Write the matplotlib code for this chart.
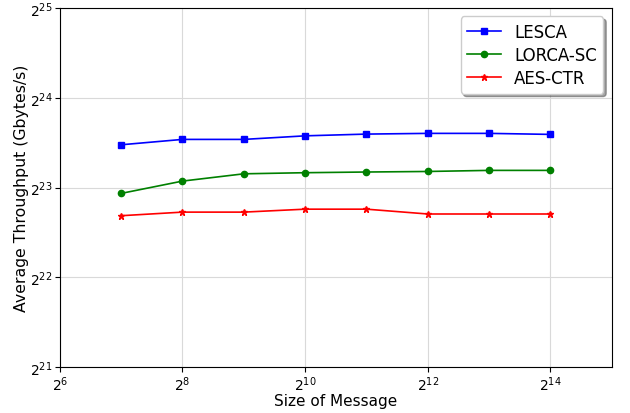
import matplotlib
matplotlib.use("Agg")
import matplotlib.pyplot as plt

# ── Data ──────────────────────────────────────────────────────────
msg_sizes = [2**7, 2**8, 2**9, 2**10, 2**11, 2**12, 2**13, 2**14]
lesca = [11.675e6, 12.17e6, 12.17e6, 12.51e6, 12.68e6, 12.75e6, 12.75e6, 12.65e6]
lorca_sc = [8.02e6, 8.82e6, 9.33e6, 9.41e6, 9.46e6, 9.50e6, 9.58e6, 9.58e6]
aes_ctr = [6.75e6, 6.94e6, 6.94e6, 7.10e6, 7.10e6, 6.84e6, 6.84e6, 6.84e6]

# ── Plot ──────────────────────────────────────────────────────────
fig = plt.figure(figsize=(6.3, 4.14), dpi=100)
ax = fig.add_axes([0.095, 0.111, 0.876, 0.867])

ax.plot(msg_sizes, lesca, color="blue", marker="s", markersize=4.5, linewidth=1.2, label="LESCA")
ax.plot(msg_sizes, lorca_sc, color="green", marker="o", markersize=4.5, linewidth=1.2, label="LORCA-SC")
ax.plot(msg_sizes, aes_ctr, color="red", marker="*", markersize=4.5, linewidth=1.2, label="AES-CTR")

ax.set_xscale("log", base=2)
ax.set_yscale("log", base=2)
ax.set_xlim(2**6, 2**15)
ax.set_ylim(2**21, 2**25)
ax.set_xticks([2**6, 2**8, 2**10, 2**12, 2**14])
ax.set_yticks([2**21, 2**22, 2**23, 2**24, 2**25])
ax.minorticks_off()
ax.tick_params(labelsize=10, pad=2)

ax.grid(True, color="#d9d9d9", linewidth=0.8)
ax.set_axisbelow(True)

ax.set_xlabel("Size of Message", fontsize=11, labelpad=0)
ax.set_ylabel("Average Throughput (Gbytes/s)", fontsize=11.3)
ax.yaxis.set_label_coords(-0.056, 0.5)

ax.legend(loc="upper right", fontsize=12, shadow=True, fancybox=True, labelspacing=0.3)

fig.savefig("out.png", dpi=100)
